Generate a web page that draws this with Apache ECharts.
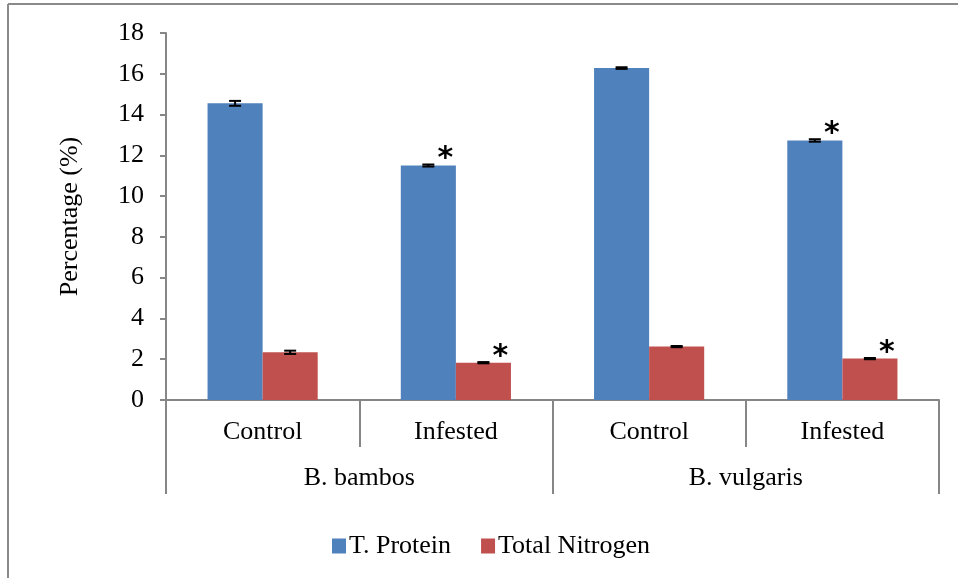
<!DOCTYPE html>
<html>
<head>
<meta charset="utf-8">
<script src="https://cdn.jsdelivr.net/npm/echarts@6/dist/echarts.min.js"></script>
<style>
  html, body { margin: 0; padding: 0; background: #fff; }
  #chart { width: 958px; height: 578px; }
</style>
</head>
<body>
<div id="chart"></div>
<script>
// Treatments within each species, and the species groups
const treatments = ['Control', 'Infested', 'Control', 'Infested'];
const species = ['B. bambos', 'B. vulgaris'];

// Percentages per treatment
const proteinValues = [14.55, 11.5, 16.28, 12.73];
const nitrogenValues = [2.34, 1.83, 2.62, 2.03];

// Standard errors
const proteinErrors = [0.12, 0.05, 0.04, 0.06];
const nitrogenErrors = [0.08, 0.03, 0.03, 0.03];

// Significant difference from control (asterisk)
const proteinSignificant = [false, true, false, true];
const nitrogenSignificant = [false, true, false, true];

const yTicks = [0, 18, 2]; // min, max, step

const FONT = '"Liberation Serif", "Times New Roman", serif';
const FONT_SIZE = 26;
const AXIS_GRAY = '#868686';
const BLUE = '#4F81BD';
const RED = '#C0504D';
const CATEGORY_GAP = 0.43;

function barShift(api, side) {
  const band = api.size([1, 0])[0];
  const barW = band * (1 - CATEGORY_GAP) / 2;
  return side * barW / 2;
}

function errorBarRenderer(side) {
  return function (params, api) {
    const i = api.value(0), v = api.value(1), e = api.value(2);
    const dx = barShift(api, side);
    const cx = api.coord([i, v])[0] + dx;
    const yTop = api.coord([i, v + e])[1];
    const yBot = api.coord([i, v - e])[1];
    const cap = 6;
    const style = { stroke: '#000', lineWidth: 2 };
    return {
      type: 'group',
      children: [
        { type: 'line', shape: { x1: cx, y1: yTop, x2: cx, y2: yBot }, style },
        { type: 'line', shape: { x1: cx - cap, y1: yTop, x2: cx + cap, y2: yTop }, style },
        { type: 'line', shape: { x1: cx - cap, y1: yBot, x2: cx + cap, y2: yBot }, style }
      ]
    };
  };
}

function starRenderer(side) {
  return function (params, api) {
    const i = api.value(0), v = api.value(1), e = api.value(2);
    const dx = barShift(api, side);
    const p = api.coord([i, v + e]);
    return {
      type: 'text',
      style: {
        text: '*',
        x: p[0] + dx + 17,
        y: p[1] + 10,
        fontSize: 30,
        fontWeight: 'bold',
        fontFamily: '"DejaVu Sans", sans-serif',
        fill: '#000',
        align: 'center',
        verticalAlign: 'bottom'
      }
    };
  };
}

const errData = (vals, errs) => vals.map((v, i) => [i, v, errs[i]]);
const starData = (vals, errs, sig) =>
  vals.map((v, i) => [i, v, errs[i]]).filter((d, i) => sig[i]);

const chart = echarts.init(document.getElementById('chart'), null, { renderer: 'canvas' });

chart.setOption({
  animation: false,
  backgroundColor: '#fff',
  textStyle: { fontFamily: FONT },
  grid: { left: 166, right: 19, top: 33, bottom: 178, containLabel: false },
  legend: {
    data: ['T. Protein', 'Total Nitrogen'],
    left: 327,
    top: 528,
    icon: 'rect',
    itemWidth: 14,
    itemHeight: 15,
    itemGap: 30,
    textStyle: { fontFamily: FONT, fontSize: FONT_SIZE, color: '#000', padding: [0, 0, 0, -2] }
  },
  xAxis: [
    {
      type: 'category',
      data: treatments,
      position: 'bottom',
      axisLine: { show: true, lineStyle: { color: AXIS_GRAY, width: 2 } },
      axisTick: { show: true, interval: 0, length: 47, lineStyle: { color: AXIS_GRAY, width: 2 } },
      axisLabel: { interval: 0, margin: 19, fontFamily: FONT, fontSize: FONT_SIZE, color: '#000' },
      splitLine: { show: false }
    },
    {
      type: 'category',
      data: species,
      position: 'bottom',
      axisLine: { show: false },
      axisTick: { show: true, interval: 0, length: 94, lineStyle: { color: AXIS_GRAY, width: 2 } },
      axisLabel: { interval: 0, margin: 65, fontFamily: FONT, fontSize: FONT_SIZE, color: '#000' },
      splitLine: { show: false }
    }
  ],
  yAxis: {
    type: 'value',
    min: yTicks[0],
    max: yTicks[1],
    interval: yTicks[2],
    name: 'Percentage (%)',
    nameLocation: 'middle',
    nameGap: 83,
    nameTextStyle: { fontFamily: FONT, fontSize: FONT_SIZE, color: '#000' },
    axisLine: { show: true, lineStyle: { color: AXIS_GRAY, width: 2 } },
    axisTick: { show: true, length: 6, lineStyle: { color: AXIS_GRAY, width: 2 } },
    axisLabel: { margin: 22, fontFamily: FONT, fontSize: FONT_SIZE, color: '#000' },
    splitLine: { show: false }
  },
  series: [
    {
      name: 'T. Protein',
      type: 'bar',
      xAxisIndex: 0,
      data: proteinValues,
      barGap: 0,
      barCategoryGap: (CATEGORY_GAP * 100) + '%',
      itemStyle: { color: BLUE }
    },
    {
      name: 'Total Nitrogen',
      type: 'bar',
      xAxisIndex: 0,
      data: nitrogenValues,
      barGap: 0,
      barCategoryGap: (CATEGORY_GAP * 100) + '%',
      itemStyle: { color: RED }
    },
    {
      type: 'custom',
      xAxisIndex: 0,
      renderItem: errorBarRenderer(-1),
      data: errData(proteinValues, proteinErrors),
      z: 5
    },
    {
      type: 'custom',
      xAxisIndex: 0,
      renderItem: errorBarRenderer(1),
      data: errData(nitrogenValues, nitrogenErrors),
      z: 5
    },
    {
      type: 'custom',
      xAxisIndex: 0,
      renderItem: starRenderer(-1),
      data: starData(proteinValues, proteinErrors, proteinSignificant),
      z: 5
    },
    {
      type: 'custom',
      xAxisIndex: 0,
      renderItem: starRenderer(1),
      data: starData(nitrogenValues, nitrogenErrors, nitrogenSignificant),
      z: 5
    }
  ],
  graphic: [
    { type: 'line', shape: { x1: 8, y1: 4, x2: 8, y2: 578 }, style: { stroke: '#8a8a8a', lineWidth: 2 } },
    { type: 'line', shape: { x1: 8, y1: 4, x2: 958, y2: 4 }, style: { stroke: '#8a8a8a', lineWidth: 2 } }
  ]
});
</script>
</body>
</html>
